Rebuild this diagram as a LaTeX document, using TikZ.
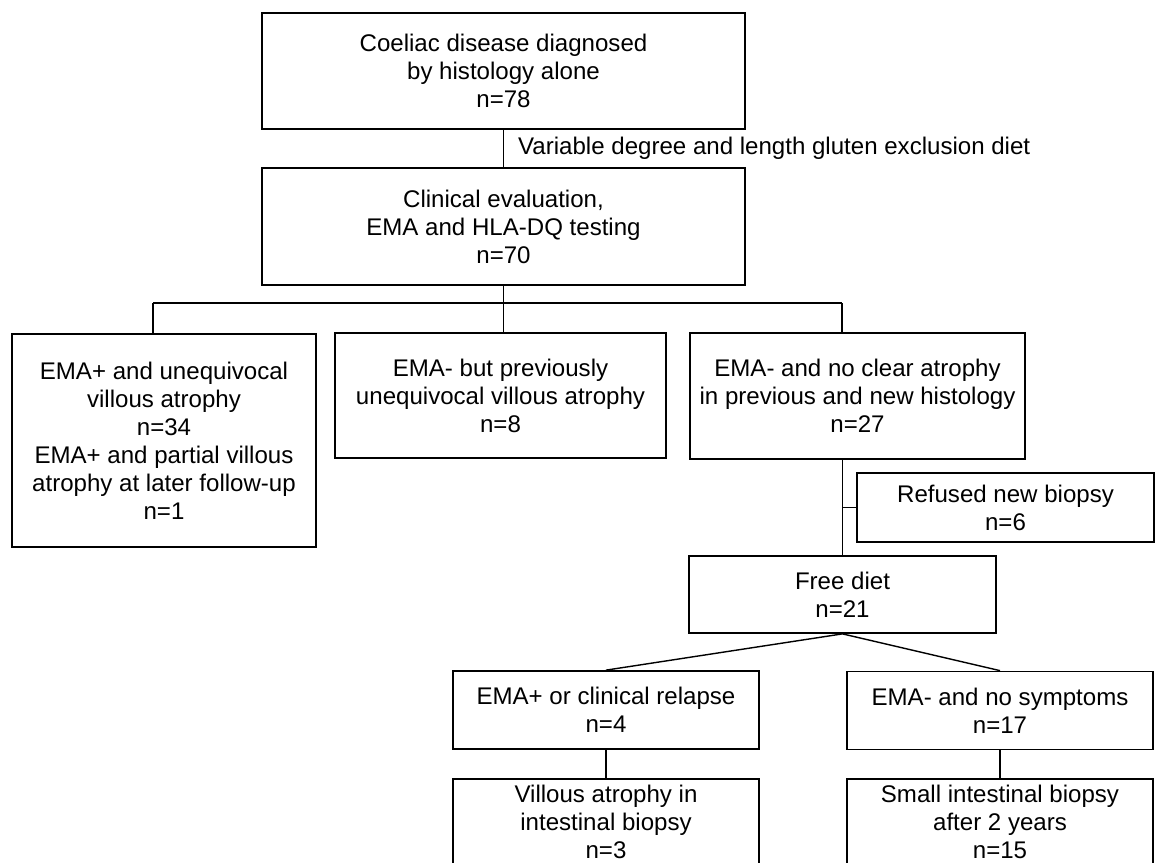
\documentclass[tikz,border=0pt]{standalone}
\usepackage{fontspec}
\setmainfont{Liberation Sans}

\begin{document}
\begin{tikzpicture}[x=0.02cm, y=-0.02cm,
                    box/.style={draw, line width=1pt, align=center, inner sep=0pt,
                                font=\fontsize{13.7}{15.9}\selectfont},
                    link/.style={line width=0.8pt}]
                    \useasboundingbox (0,0) rectangle (1155,862);
                    \node[box, minimum width=9.66cm, minimum height=2.32cm] (diag) at (503.5,71)
                        {Coeliac disease diagnosed\\by histology alone\\n=78};
                    \node[box, minimum width=9.66cm, minimum height=2.34cm] (clin) at (503.5,226.5)
                        {Clinical evaluation,\\EMA and HLA-DQ testing\\n=70};
                    \node[box, minimum width=6.08cm, minimum height=4.26cm] (eposva) at (164,440.5)
                        {EMA+ and unequivocal\\villous atrophy\\n=34\\EMA+ and partial villous\\atrophy at later follow-up\\n=1};
                    \node[box, minimum width=6.62cm, minimum height=2.5cm] (eprev) at (500.5,395.5)
                        {EMA- but previously\\unequivocal villous atrophy\\n=8};
                    \node[box, minimum width=6.7cm, minimum height=2.52cm] (enoclear) at (857.5,396)
                        {EMA- and no clear atrophy\\in previous and new histology\\n=27};
                    \node[box, minimum width=5.94cm, minimum height=1.38cm] (refused) at (1005.5,507.5)
                        {Refused new biopsy\\n=6};
                    \node[box, minimum width=6.14cm, minimum height=1.54cm] (free) at (842.5,594.5)
                        {Free diet\\n=21};
                    \node[box, minimum width=6.12cm, minimum height=1.56cm] (relapse) at (606,710)
                        {EMA+ or clinical relapse\\n=4};
                    \node[box, minimum width=6.12cm, minimum height=1.56cm] (nosymp) at (1000,710.5)
                        {EMA- and no symptoms\\n=17};
                    \node[box, minimum width=6.12cm, minimum height=1.72cm] (villous) at (606,822)
                        {Villous atrophy in\\intestinal biopsy\\n=3};
                    \node[box, minimum width=6.12cm, minimum height=1.72cm] (smallbx) at (1000,822)
                        {Small intestinal biopsy\\after 2 years\\n=15};
                    \coordinate (split) at (503.5,303);
                    \coordinate (lt) at (153,303);
                    \coordinate (rt) at (842,303);
                    \draw[link] (diag) -- node[anchor=west, inner sep=0pt, xshift=0.28cm,
                                              font=\fontsize{13.7}{15.9}\selectfont]
                        {Variable degree and length gluten exclusion diet} (clin);
                    \draw[link] (clin.south) -- (split);
                    \draw[link] (lt) -- (rt);
                    \draw[link] (lt) -- (lt |- eposva.north);
                    \draw[link] (split) -- (split |- eprev.north);
                    \draw[link] (rt) -- (rt |- enoclear.north);
                    \draw[link] (enoclear.south -| free.north) -- (free.north);
                    \draw[link] (free.north |- refused.west) -- (refused.west);
                    \draw[link] (free.south) -- (relapse.north);
                    \draw[link] (free.south) -- (nosymp.north);
                    \draw[link] (relapse) -- (villous);
                    \draw[link] (nosymp) -- (smallbx);
\end{tikzpicture}
\end{document}
